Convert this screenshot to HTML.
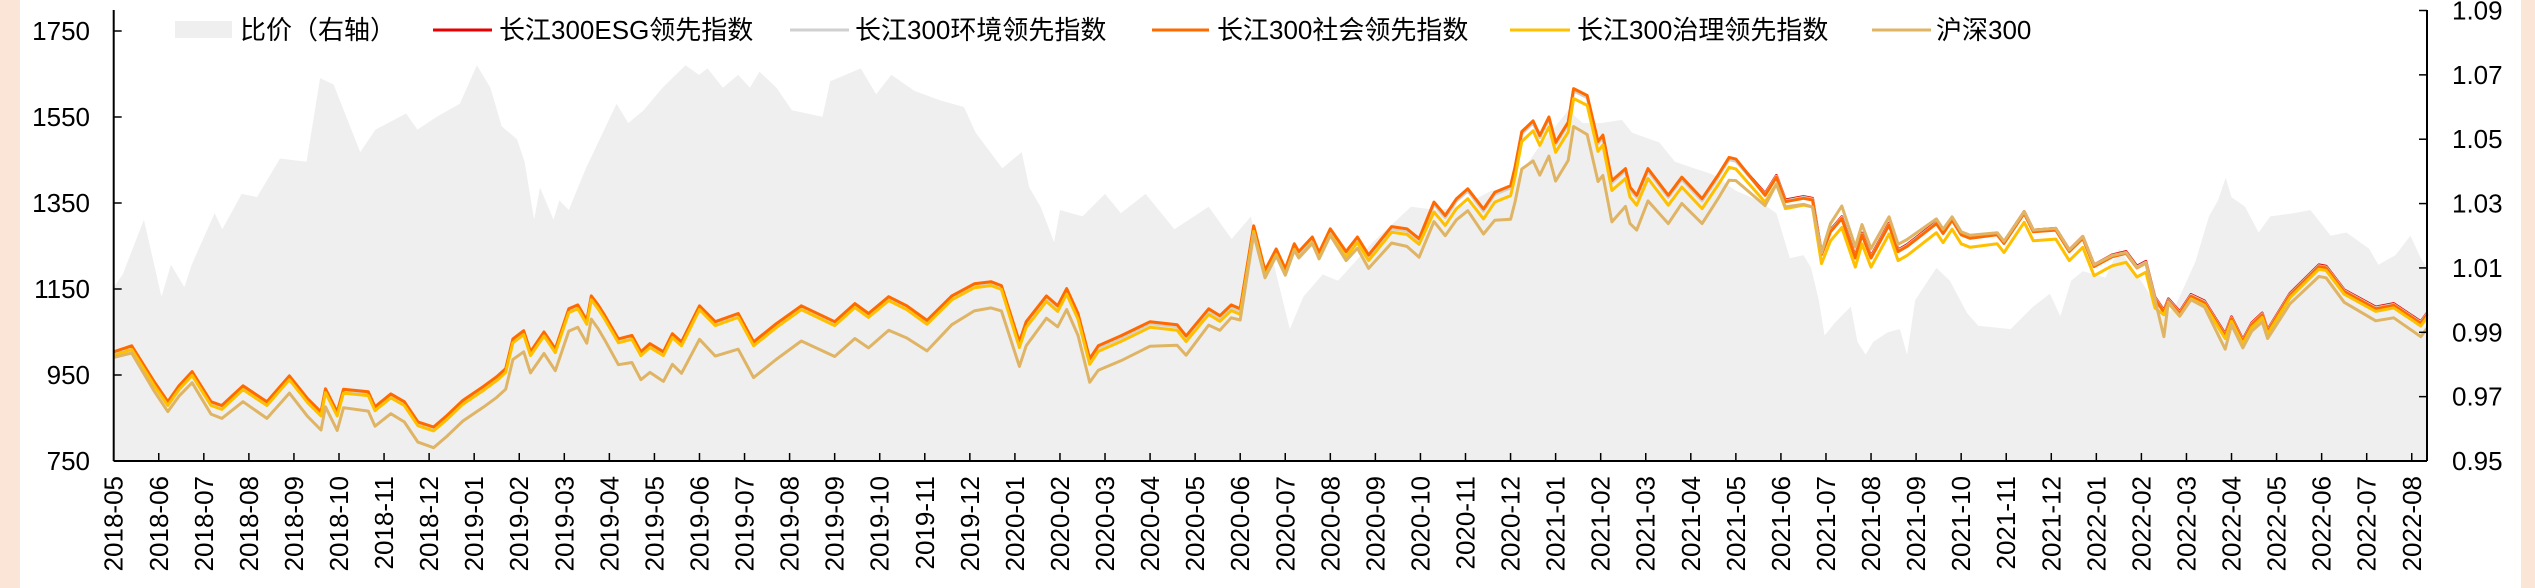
<!DOCTYPE html>
<html><head><meta charset="utf-8"><style>
html,body{margin:0;padding:0;background:#fff}
svg{display:block;font-family:"Liberation Sans","Noto Sans CJK SC",sans-serif}
</style></head><body>
<svg id="chart" width="2535" height="588" viewBox="0 0 2535 588">
<rect x="0" y="0" width="20" height="588" fill="#fbe5d6"/>
<rect x="2521" y="0" width="14" height="588" fill="#fbe5d6"/>
<g id="plot"></g>
<g id="axes"></g>
<g id="legend" font-size="26" fill="#000">
 <g><rect x="175" y="21" width="57" height="17" fill="#efefef"/><text x="240" y="39">比价（右轴）</text></g>
 <g><line x1="433" y1="30" x2="492" y2="30" stroke="#e60000" stroke-width="3"/><text x="499" y="39">长江300ESG领先指数</text></g>
 <g><line x1="790" y1="30" x2="849" y2="30" stroke="#d0d0d0" stroke-width="3"/><text x="855" y="39">长江300环境领先指数</text></g>
 <g><line x1="1152" y1="30" x2="1209" y2="30" stroke="#ff6a00" stroke-width="3"/><text x="1217" y="39">长江300社会领先指数</text></g>
 <g><line x1="1510" y1="30" x2="1570" y2="30" stroke="#ffc000" stroke-width="3"/><text x="1577" y="39">长江300治理领先指数</text></g>
 <g><line x1="1872" y1="30" x2="1931" y2="30" stroke="#dfb464" stroke-width="3"/><text x="1936" y="39">沪深300</text></g>
</g>
</svg>
<script>
const monthLabels = ["2018-05","2018-06","2018-07","2018-08","2018-09","2018-10","2018-11","2018-12","2019-01","2019-02","2019-03","2019-04","2019-05","2019-06","2019-07","2019-08","2019-09","2019-10","2019-11","2019-12","2020-01","2020-02","2020-03","2020-04","2020-05","2020-06","2020-07","2020-08","2020-09","2020-10","2020-11","2020-12","2021-01","2021-02","2021-03","2021-04","2021-05","2021-06","2021-07","2021-08","2021-09","2021-10","2021-11","2021-12","2022-01","2022-02","2022-03","2022-04","2022-05","2022-06","2022-07","2022-08"];
const leftTicks = [750,950,1150,1350,1550,1750];
const rightTicks = [0.95,0.97,0.99,1.01,1.03,1.05,1.07,1.09];
const lineMonths = [0,0.4,0.9,1.2,1.45,1.74,2.16,2.4,2.87,3.4,3.9,4.3,4.6,4.7,4.96,5.1,5.65,5.8,6.15,6.45,6.75,7.1,7.4,7.75,8.2,8.5,8.7,8.86,9.1,9.25,9.55,9.8,10.1,10.3,10.5,10.6,10.75,10.9,11.2,11.5,11.7,11.9,12.2,12.4,12.6,13.0,13.35,13.86,14.2,14.7,15.26,16.0,16.45,16.75,17.2,17.6,18.05,18.6,19.1,19.47,19.7,20.1,20.25,20.7,20.95,21.15,21.4,21.66,21.85,22.35,23.0,23.6,23.8,24.3,24.55,24.8,25.0,25.3,25.55,25.8,26.0,26.2,26.3,26.6,26.75,27.0,27.35,27.6,27.85,28.36,28.7,28.97,29.3,29.55,29.8,30.05,30.4,30.65,31.0,31.1,31.25,31.5,31.65,31.85,32.0,32.28,32.4,32.7,32.94,33.05,33.25,33.55,33.65,33.8,34.05,34.5,34.8,35.25,35.6,35.85,36.0,36.65,36.9,37.1,37.5,37.7,37.9,38.1,38.35,38.65,38.8,39.0,39.4,39.6,39.8,40.45,40.6,40.8,41.0,41.2,41.8,41.95,42.4,42.6,43.1,43.4,43.7,43.95,44.35,44.66,44.9,45.1,45.3,45.5,45.6,45.85,46.1,46.4,46.86,47.0,47.25,47.45,47.68,47.8,48.3,48.94,49.1,49.5,50.2,50.6,51.2,51.34];
const esgValues = [1001,1015,931,885,922,955,885,876,922,885,945,892,861,915,861,914,908,873,903,885,838,826,853,888,920,943,962,1031,1050,1001,1047,1008,1101,1110,1074,1131,1110,1085,1031,1039,1001,1020,1001,1043,1024,1108,1071,1090,1024,1066,1108,1071,1113,1090,1129,1108,1074,1131,1159,1164,1155,1024,1071,1131,1108,1148,1090,985,1015,1038,1071,1064,1038,1101,1085,1110,1101,1294,1190,1240,1194,1252,1234,1268,1232,1287,1234,1268,1226,1292,1287,1264,1349,1318,1357,1380,1333,1372,1387,1431,1513,1538,1504,1547,1488,1535,1613,1597,1490,1505,1399,1427,1384,1365,1427,1365,1407,1357,1411,1453,1449,1372,1414,1357,1365,1361,1234,1287,1318,1226,1280,1226,1303,1241,1253,1306,1283,1314,1280,1272,1280,1260,1330,1287,1291,1241,1272,1206,1229,1237,1203,1214,1131,1100,1127,1097,1137,1122,1045,1085,1032,1071,1094,1055,1140,1206,1203,1148,1108,1116,1074,1094];
const envValues = [999,1013,929,883,920,953,883,874,920,883,943,890,859,913,859,912,906,871,901,883,836,824,851,886,918,941,960,1029,1048,999,1045,1006,1099,1108,1072,1129,1108,1083,1029,1037,999,1018,999,1041,1022,1106,1069,1088,1022,1064,1106,1069,1111,1088,1127,1106,1072,1129,1157,1162,1153,1022,1069,1129,1106,1146,1088,983,1013,1036,1069,1062,1036,1099,1083,1108,1099,1292,1188,1238,1192,1250,1232,1266,1230,1285,1232,1266,1224,1290,1285,1262,1347,1316,1355,1378,1331,1370,1385,1429,1511,1536,1502,1545,1486,1533,1611,1595,1488,1503,1397,1425,1382,1363,1425,1363,1405,1355,1409,1451,1447,1370,1412,1355,1363,1359,1232,1285,1316,1224,1278,1224,1301,1239,1251,1304,1281,1312,1278,1270,1278,1258,1328,1285,1289,1239,1270,1204,1227,1235,1201,1212,1129,1098,1125,1095,1135,1120,1043,1083,1030,1069,1092,1053,1138,1204,1201,1146,1106,1114,1072,1092];
const socialValues = [1004,1018,934,888,925,958,888,879,925,888,948,895,864,918,864,917,911,876,906,888,841,829,856,891,923,946,965,1034,1053,1004,1050,1011,1104,1113,1077,1134,1113,1088,1034,1042,1004,1023,1004,1046,1027,1111,1074,1093,1027,1069,1111,1074,1116,1093,1132,1111,1077,1134,1162,1167,1158,1027,1074,1134,1111,1151,1093,988,1018,1041,1074,1067,1041,1104,1088,1113,1104,1297,1193,1243,1197,1255,1237,1271,1235,1290,1237,1271,1229,1295,1290,1267,1352,1321,1360,1383,1336,1375,1390,1434,1516,1541,1507,1550,1491,1538,1616,1600,1493,1508,1402,1430,1387,1368,1430,1368,1410,1360,1414,1456,1452,1368,1410,1353,1361,1357,1230,1283,1314,1222,1276,1222,1299,1237,1249,1302,1279,1310,1276,1268,1276,1256,1326,1283,1287,1237,1268,1202,1225,1233,1199,1210,1127,1096,1123,1093,1133,1118,1041,1081,1028,1067,1090,1051,1136,1202,1199,1144,1104,1112,1070,1090];
const govValues = [995,1009,925,879,916,949,879,870,916,879,939,886,855,909,855,908,902,867,897,879,832,820,847,882,914,937,956,1025,1044,995,1041,1002,1095,1104,1068,1125,1104,1079,1025,1033,995,1014,995,1037,1018,1102,1065,1084,1018,1060,1102,1065,1107,1084,1123,1102,1068,1125,1153,1158,1149,1014,1061,1121,1098,1138,1080,975,1005,1028,1061,1054,1028,1091,1075,1100,1091,1284,1180,1230,1184,1242,1224,1258,1222,1277,1224,1258,1216,1282,1277,1254,1329,1298,1337,1360,1313,1352,1367,1411,1493,1518,1484,1527,1468,1515,1593,1577,1470,1485,1379,1407,1364,1345,1407,1345,1387,1337,1391,1433,1429,1352,1394,1337,1345,1341,1209,1262,1293,1201,1255,1201,1278,1216,1228,1281,1258,1289,1255,1247,1255,1235,1305,1262,1266,1216,1247,1181,1204,1212,1178,1189,1106,1090,1117,1087,1127,1112,1035,1075,1022,1061,1084,1045,1130,1196,1193,1138,1098,1106,1064,1084];
const csiValues = [991,1001,912,865,901,932,859,849,888,849,908,854,822,876,821,874,866,831,860,841,794,781,808,843,875,898,917,986,1004,955,1000,960,1052,1061,1024,1080,1058,1031,974,979,939,956,935,975,954,1033,994,1010,944,986,1029,993,1035,1013,1054,1036,1006,1067,1099,1106,1099,970,1018,1082,1062,1102,1042,933,961,983,1017,1019,996,1066,1054,1083,1078,1278,1176,1227,1182,1240,1222,1256,1220,1275,1216,1245,1198,1257,1249,1224,1307,1274,1311,1332,1278,1310,1312,1353,1429,1448,1415,1459,1401,1449,1528,1509,1400,1414,1306,1342,1302,1287,1355,1302,1349,1302,1359,1403,1402,1344,1394,1341,1347,1341,1234,1302,1343,1248,1300,1244,1318,1254,1265,1313,1289,1318,1283,1275,1281,1261,1330,1287,1291,1241,1272,1206,1228,1235,1200,1210,1126,1039,1120,1087,1125,1108,1010,1067,1013,1052,1074,1035,1116,1179,1176,1119,1076,1083,1039,1059];
const ratioMonths = [0,0.2,0.67,1.06,1.27,1.57,1.73,2.24,2.41,2.84,3.18,3.69,4.28,4.58,4.88,5.47,5.81,6.49,6.74,7.17,7.68,8.06,8.36,8.61,8.95,9.12,9.33,9.46,9.76,9.89,10.1,10.48,10.99,11.16,11.42,11.76,12.18,12.69,12.99,13.18,13.52,13.86,14.12,14.33,14.71,15.05,15.73,15.9,16.58,16.92,17.26,17.77,18.36,18.87,19.13,19.72,20.15,20.32,20.57,20.87,21.0,21.5,22.0,22.35,22.9,23.54,24.3,24.81,25.24,25.5,25.75,26.1,26.4,26.83,27.17,27.94,28.79,29.38,29.9,30.57,31.0,31.6,32.28,32.6,33.0,33.47,33.7,34.3,34.65,35.07,35.5,36.0,36.5,36.9,37.2,37.5,37.67,37.84,37.97,38.2,38.55,38.7,38.88,39.05,39.37,39.64,39.8,39.98,40.45,40.75,41.13,41.38,42.1,42.6,42.97,43.2,43.44,43.7,44.2,44.5,44.9,45.5,45.75,46.2,46.5,46.7,46.87,47.0,47.3,47.6,47.86,48.37,48.75,49.2,49.55,50.05,50.26,50.64,50.97,51.2,51.34];
const ratioValues = [1.004,1.008,1.025,1.001,1.011,1.004,1.011,1.027,1.022,1.033,1.032,1.044,1.043,1.069,1.067,1.046,1.053,1.058,1.053,1.057,1.061,1.073,1.066,1.054,1.050,1.043,1.025,1.035,1.025,1.031,1.028,1.041,1.056,1.061,1.055,1.059,1.066,1.073,1.070,1.072,1.066,1.070,1.066,1.071,1.066,1.059,1.057,1.068,1.072,1.064,1.070,1.065,1.062,1.060,1.052,1.041,1.046,1.035,1.029,1.018,1.028,1.026,1.033,1.027,1.033,1.022,1.029,1.019,1.026,1.008,1.011,0.991,1.001,1.008,1.006,1.018,1.029,1.028,1.029,1.034,1.035,1.047,1.059,1.055,1.055,1.056,1.052,1.049,1.043,1.041,1.039,1.034,1.031,1.027,1.013,1.014,1.010,1.000,0.989,0.993,0.998,0.987,0.983,0.987,0.990,0.991,0.983,1.000,1.010,1.006,0.996,0.992,0.991,0.998,1.002,0.995,1.006,1.009,1.007,1.016,1.008,0.995,0.998,1.012,1.026,1.031,1.038,1.032,1.029,1.021,1.026,1.027,1.028,1.020,1.021,1.016,1.011,1.014,1.020,1.013,1.010];

const NS = "http://www.w3.org/2000/svg";
const X0 = 113.7, X1 = 2427, YB = 461, YT = 10;
const xOf = m => X0 + m * 45.06;
const yL = v => YB - (v - 750) / 1000 * 430;
const yR = r => YB - (r - 0.95) / 0.14 * 450.5;
function mk(tag, attrs, parent) {
  const el = document.createElementNS(NS, tag);
  for (const k in attrs) el.setAttribute(k, attrs[k]);
  parent.appendChild(el);
  return el;
}
const plot = document.getElementById('plot');
const axes = document.getElementById('axes');

// ratio area
let d = 'M' + xOf(ratioMonths[0]).toFixed(1) + ',' + YB;
ratioMonths.forEach((m, i) => { d += 'L' + xOf(m).toFixed(1) + ',' + yR(ratioValues[i]).toFixed(1); });
d += 'L' + xOf(ratioMonths[ratioMonths.length - 1]).toFixed(1) + ',' + YB + 'Z';
const area = mk('path', {d: d, fill: '#efefef', stroke: 'none'}, plot);



const series = [
  ['esg-line', esgValues, '#e60000'],
  ['environment-line', envValues, '#d0d0d0'],
  ['social-line', socialValues, '#ff6a00'],
  ['governance-line', govValues, '#ffc000'],
  ['csi300-line', csiValues, '#dfb464']
];
series.forEach(s => {
  let p = '';
  lineMonths.forEach((m, i) => { p += (i ? 'L' : 'M') + xOf(m).toFixed(1) + ',' + yL(s[1][i]).toFixed(1); });
  const el = mk('path', {d: p, fill: 'none', stroke: s[2], 'stroke-width': 3, 'stroke-linejoin': 'round'}, plot);
  
  
});

// axes lines
const la = mk('line', {x1: X0, y1: YT, x2: X0, y2: YB, stroke: '#000', 'stroke-width': 2}, axes);


const ra = mk('line', {x1: X1, y1: YT, x2: X1, y2: YB, stroke: '#000', 'stroke-width': 2}, axes);


const ba = mk('line', {x1: X0, y1: YB, x2: X1, y2: YB, stroke: '#000', 'stroke-width': 2}, axes);



leftTicks.forEach(v => {
  const y = yL(v);
  mk('line', {x1: X0, y1: y, x2: X0 + 8, y2: y, stroke: '#000', 'stroke-width': 1.5}, axes);
  const t = mk('text', {x: 90, y: y + 9, 'text-anchor': 'end', 'font-size': 26}, axes);
  t.textContent = v;
  
  
});
rightTicks.forEach(r => {
  const y = yR(r);
  mk('line', {x1: X1 - 8, y1: y, x2: X1, y2: y, stroke: '#000', 'stroke-width': 1.5}, axes);
  const t = mk('text', {x: 2452, y: y + 9, 'font-size': 26}, axes);
  t.textContent = r.toFixed(2);
  
  
});
monthLabels.forEach((lab, i) => {
  const x = xOf(i);
  mk('line', {x1: x, y1: YB - 8, x2: x, y2: YB, stroke: '#000', 'stroke-width': 1.5}, axes);
  const t = mk('text', {x: 0, y: 0, 'text-anchor': 'end', 'font-size': 26, transform: 'translate(' + (x + 9).toFixed(1) + ',476) rotate(-90)'}, axes);
  t.textContent = lab;
  
  
});
</script>
</body></html>
